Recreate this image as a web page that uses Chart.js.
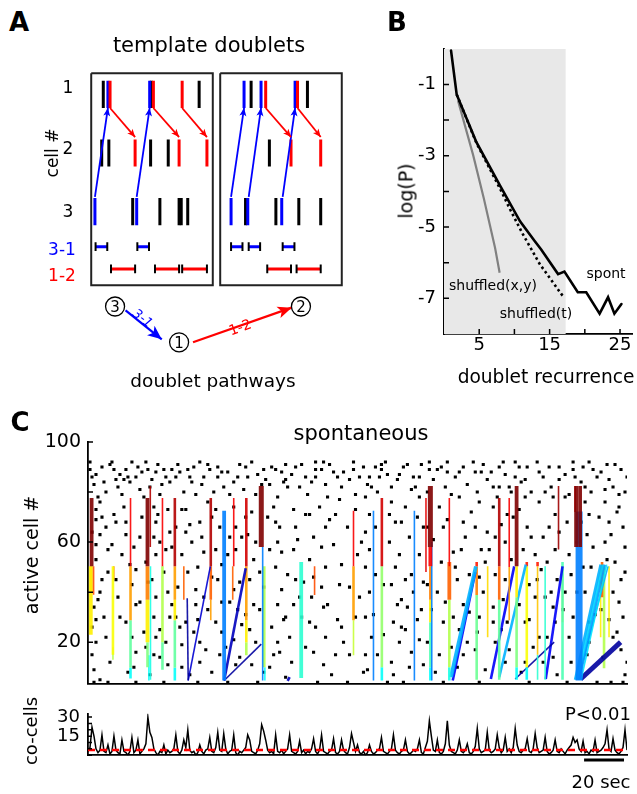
<!DOCTYPE html>
<html>
<head>
<meta charset="utf-8">
<title>doublet pathways</title>
<script src="https://cdn.jsdelivr.net/npm/chart.js@4.4.1/dist/chart.umd.min.js"></script>
<style>
  body { margin: 0; width: 637px; height: 794px; position: relative; overflow: hidden; background: #fff;
         font-family: "DejaVu Sans", sans-serif; }
  canvas { position: absolute; }
  .lbl { position: absolute; line-height: 1; white-space: nowrap; }
</style>
</head>
<body>
<script>
// ---------- A: template doublets (time from start of first window, rows = cell #) ----------
const templateWindows = [[0, 131], [139, 270]];
const spikesBlack = [[13,1],[64.7,1],[116.3,1],[11.3,2],[19,2],[64,2],[83,2],[44.7,3],[74,3],[94.7,3],[97,3],[104,3],
                     [172.3,1],[233,1],[192,2],[166.3,3],[199,3],[223.7,3],[247.3,3]];
const spikesBlue = [[18,1],[63,1],[4,3],[49,3],[164.7,1],[183,1],[219.7,1],[150.7,3],[168.7,3],[205.3,3]];
const spikesRed = [[20.3,1],[67,1],[98,1],[47.3,2],[94.7,2],[124.7,2],[188,1],[222.3,1],[215.3,2],[247.3,2]];
const pairs31 = [[4.7,17.3],[49.7,62.3],[150.7,163],[169.7,182],[206.3,219]];
const pairs12 = [[21.3,47.3],[68.7,94.7],[98,124.7],[189.7,215.3],[221.3,247.3]];
const arrows31 = [[4,2.75,18,1.232],[49,2.75,63,1.232],[150.7,2.75,164.7,1.232],[169.7,2.75,183,1.232],[206.3,2.75,219.7,1.232]];
const arrows12 = [[20.3,1.232,47.3,1.728],[67,1.232,94.7,1.728],[98,1.232,124.7,1.728],[188,1.232,215.3,1.728],[222.3,1.232,247.3,1.728]];
const pathwayNodes = [['3', 25.7, 4.62], ['1', 94.7, 5.232], ['2', 226, 4.62]];
const pathwayEdges = [['3-1', 37, 4.688, 76, 5.18], ['1-2', 109.7, 5.232, 216, 4.64]];

// ---------- B: doublet recurrence ----------
const spontX = [1, 1.8, 4.6, 7.9, 10.8, 12.9, 13.8, 16.2, 17.1, 19.0, 20.2, 22.1, 23.3, 24.2, 25.2];
const spontY = [-0.05, -1.28, -2.62, -3.82, -4.84, -5.40, -5.63, -6.32, -6.25, -6.83, -6.83, -7.43, -6.97, -7.43, -7.16];
const shufTX = [1.8, 4.6, 7.9, 9.5, 11.2, 13.6, 17.0];
const shufTY = [-1.28, -2.64, -3.9, -4.55, -5.2, -6.04, -6.97];
const shufXYX = [2.0, 4.15, 5.65, 7.25, 7.9];
const shufXYY = [-1.46, -2.99, -4.19, -5.58, -6.28];
const shadeUntil = 17.3;

// ---------- C: spontaneous raster [sec, cell] ----------
const rasterSpikes = [
  [1,92],[1,89],[2,86],[3,83],[5,78],[7,90],[6,76],[13,89],[14,85],[15,82],[19,89],[18,85],[22,92],[24,86],[26,81],[29,92],[30,89],[32,85],
  [38,89],[39,86],[42,89],[46,88],[50,89],[56,92],[52,84],[65,90],[65,86],[68,82],[73,84],[79,90],[80,86],[88,89],[89,85],[94,89],[99,91],
  [99,85],[100,82],[106,82],[114,92],[114,89],[114,86],
  [4,73],[4,69],[6,63],[4,59],[4,53],[13,71],[14,68],[12,59],[10,48],[7,45],[6,40],[3,34],[4,29],[2,26],[4,20],[2,15],[3,9],[6,5],
  [19,68],[19,63],[23,58],[24,49],[22,43],[24,35],[19,28],[22,22],[24,16],[23,10],
  [33,74],[34,68],[33,62],[34,55],[32,45],[34,38],[33,30],[34,22],[33,15],
  [40,73],[41,64],[39,57],[40,40],[41,30],[39,20],[40,11],
  [47,73],[49,73],[49,64],[47,55],[50,48],[49,28],[47,19],[47,10],
  [56,68],[57,62],[55,50],[58,38],[55,29],[56,20],[56,12],
  [64,73],[66,66],[64,57],[65,45],[67,36],[64,28],[66,15],
  [73,74],[74,66],[74,57],[73,41],[75,33],[73,21],[74,11],
  [82,72],[80,63],[83,53],[81,45],[83,35],[81,25],[82,11],
  [93,74],[94,68],[95,60],[94,50],[95,35],[98,29],[99,30],[95,20],[93,15],[99,6],
  [103,73],[104,66],[103,57],[104,45],[103,35],[101,22],
  [111,71],[113,62],[111,53],[112,38],[111,28],[113,16],
  [133,92],[133,89],[147,91],[147,89],[146,86],[155,85],[164,82],[171,92],[171,89],[180,92],[180,88],[184,86],[193,92],[194,88],[200,85],
  [206,90],[206,82],[214,92],[214,86],[220,90],[225,92],[226,88],[236,85],[243,92],[243,89],[251,92],[255,86],[261,85],[267,89],[269,80],
  [125,86],[119,83],[142,82],[140,83],[162,81],[179,82],[203,82],[211,82],[229,80],[249,82],[259,81],
  [126,77],[124,71],[119,66],[123,59],[119,50],[126,43],[120,35],[125,29],[119,22],[124,15],[118,11],
  [139,78],[141,71],[139,64],[141,57],[139,50],[141,40],[139,30],[142,22],[139,15],[140,9],
  [152,76],[154,68],[151,60],[154,50],[152,43],[155,35],[153,28],[156,20],[152,12],
  [159,74],[161,62],[159,45],[160,34],[159,25],[161,10],
  [166,78],[168,66],[166,55],[168,44],[167,33],[166,21],[168,11],
  [176,74],[178,66],[177,52],[175,40],[178,28],[176,15],
  [186,78],[188,68],[187,57],[185,45],[188,35],[186,25],[188,15],
  [196,76],[194,66],[197,57],[198,40],[196,30],[194,17],
  [203,74],[204,62],[204,47],[203,34],[204,20],
  [210,71],[209,60],[209,45],[210,28],[209,12],
  [219,78],[220,66],[218,57],[221,43],[219,28],[219,12],
  [226,76],[228,62],[227,49],[229,38],[226,22],[228,12],
  [233,78],[234,71],[234,57],[235,45],[233,34],[234,28],[235,7],
  [239,78],[240,68],[241,55],[239,40],[241,22],
  [249,76],[251,71],[250,63],[252,50],[249,40],[251,28],[250,15],
  [259,76],[261,68],[259,60],[260,53],[263,40],[261,29],
  [266,74],[268,66],[269,58],[267,45],[268,30],[267,17],[269,7],
  [3,4],[10,4],[24,4],[38,4],[55,4],[70,4],[85,4],[115,4],[130,4],[150,4],[158,4],[178,4],[196,4],[221,4],[240,4],[255,4],[262,4],[268,4],
  [8,84],[11,91],[16,87],[21,84],[27,88],[35,91],[37,83],[44,86],[53,90],[58,86],[61,89],[70,88],[76,91],[85,87],[91,83],[97,88],[104,90],
  [109,86],[117,89],[121,91],[128,88],[136,86],[144,90],[150,87],[158,90],[166,86],[175,89],[188,90],[197,88],[209,87],[217,84],[231,90],
  [239,87],[247,84],[253,89],[264,91],
  [9,66],[17,55],[27,70],[29,52],[36,60],[44,66],[52,60],[60,76],[62,46],[70,55],[77,62],[86,48],[90,70],[97,56],[108,44],[116,74],[130,66],
  [135,55],[144,47],[157,68],[170,66],[183,56],[191,47],[200,64],[213,70],[224,55],[231,66],[245,60],[256,70],[264,52],
  [8,30],[15,38],[28,24],[36,14],[44,30],[53,24],[60,33],[69,18],[77,27],[86,33],[91,10],[97,41],[107,30],[117,42],[128,20],[134,30],
  [145,15],[157,26],[163,40],[172,33],[183,30],[190,20],[199,52],[207,25],[216,35],[223,18],[232,40],[243,30],[248,50],[257,33],[265,24],
  [4,87],[9,80],[12,92],[17,79],[20,86],[25,90],[28,78],[31,82],[34,88],[36,79],[41,84],[45,91],[48,80],[51,86],[54,79],[57,83],[60,91],
  [63,80],[67,88],[71,79],[75,86],[78,81],[82,92],[84,79],[87,83],[92,90],[95,78],[98,84],[102,87],[107,91],[110,79],[112,84],[118,92],
  [120,78],[123,88],[127,82],[131,85],[134,79],[138,90],[141,86],[145,80],[149,92],[152,82],[156,87],[160,91],[163,86],[167,91],[170,80],
  [173,85],[177,90],[182,79],[186,88],[190,83],[195,80],[198,91],[202,88],[205,78],[208,92],[212,80],[216,90],[219,85],[222,80],[228,86],
  [232,82],[236,90],[241,79],[244,86],[248,90],[252,80],[257,88],[260,91],[263,82],[266,79],[270,86],
  [2,64],[7,70],[10,57],[14,45],[18,74],[21,51],[26,62],[30,44],[35,71],[38,48],[42,58],[45,42],[51,67],[54,41],[58,56],[62,70],[67,51],
  [71,62],[76,44],[79,70],[84,60],[88,42],[91,57],[96,66],[100,47],[105,61],[109,71],[113,46],[117,58],[121,69],[127,51],[131,42],[134,73],
  [137,60],[144,66],[148,43],[151,71],[156,55],[162,47],[165,70],[170,43],[173,61],[180,69],[184,50],[189,62],[192,72],[196,46],[201,57],
  [207,67],[212,53],[216,73],[222,62],[225,45],[230,52],[236,64],[242,47],[247,68],[253,58],[257,44],[262,63],[265,72],[269,48],
  [5,37],[9,22],[11,12],[16,30],[20,8],[26,36],[29,18],[31,7],[36,25],[42,35],[46,26],[51,7],[54,35],[59,17],[62,8],[67,24],[71,36],
  [76,14],[79,31],[84,20],[88,8],[92,26],[96,16],[102,12],[106,38],[109,18],[114,26],[118,34],[122,7],[127,26],[131,15],[136,38],[138,8],
  [143,31],[148,23],[153,7],[157,37],[162,16],[165,29],[170,20],[174,8],[179,36],[182,18],[185,10],[191,32],[195,24],[199,9],[203,28],
  [208,37],[211,17],[217,8],[221,29],[224,38],[230,22],[233,14],[238,33],[242,12],[245,40],[251,20],[254,31],[258,14],[263,22],[266,36],[270,12]
];

// doublet sequences: [t0, cell0, t1, cell1, colour level (jet 0..1), recurrence]
const doubletSegments = [
  [1.8,50.3,1.8,77.6,1.0,3],[2.8,39,2.8,50.3,0.8,1],[1.4,23,1.4,50.3,0.64,3],[1.6,40,1.6,50.3,0.72,2],
  [12.5,15,12.5,50.3,0.62,2],[12.9,45,12.9,50.3,0.78,1],[12.5,13,12.5,18,0.55,1],
  [21.3,50.3,21.3,77.6,0.88,1],[21.3,28.8,21.3,50.3,0.72,2],[21.3,9.8,21.3,28.8,0.47,2],[21.3,5.5,21.3,9.8,0.38,2],
  [29.8,50.3,29.8,77.6,1.0,3],[31.2,58,31.2,82.4,0.95,1],[29.8,37,29.8,50.3,0.75,3],[29.8,20,29.8,37,0.64,3],
  [29.8,10,29.8,20,0.5,2],[30.5,4.7,30.5,14.8,0.38,1],[31.3,5,31.3,50.3,0.4,1],
  [37.3,50.3,37.3,77.6,0.88,1],[37.3,20,37.3,50.3,0.55,2],[37.3,9,37.3,20,0.47,2],
  [43.5,50.3,43.5,77.6,0.95,2],[43.5,37,43.5,50.3,0.72,2],[43.5,28.8,43.5,37,0.64,2],[43.5,9.8,43.5,28.8,0.47,2],[43.5,4.7,43.5,9.8,0.38,2],
  [48,37,48,50.3,0.78,1],
  [49.7,37.6,50.2,4.7,0.03,1],[50.2,4.7,61.3,50.3,0.08,1],
  [61.5,50.3,61.5,77.6,0.95,2],[61.5,37,61.5,50.3,0.78,2],[61.5,28.8,61.5,37,0.72,1],
  [68.2,4.7,68.2,72.5,0.25,3],[68.2,4.7,79,49.5,0.06,2],[68.2,4.7,86.8,19.2,0.03,1],
  [73,50.3,73,77.6,0.88,1],[72.5,37,72.5,50.3,0.78,1],
  [79.3,50.3,79.3,77.6,0.92,2],[79.3,28.8,79.3,50.3,0.72,2],[79.3,20,79.3,28.8,0.64,2],[79.3,14.8,79.3,20,0.55,2],
  [86.8,58,86.8,82.4,1.0,4],[87.5,4.7,87.5,58,0.25,1],[88.3,10,88.3,50.3,0.55,2],[88.6,4.7,88.6,10,0.38,1],
  [100,4.5,101,6,0.06,2],
  [106.8,5.7,106.8,52,0.42,3],
  [113.5,38.9,113.5,50.3,0.8,1],
  [133,50.3,133,72.5,0.88,1],[133,28.8,133,50.3,0.72,2],[133,14.8,133,28.8,0.57,1],
  [143,4.7,143,72.5,0.25,1],
  [147.2,50.3,147.2,77.6,0.92,2],[147.2,10,147.2,50.3,0.52,2],[147.2,4.7,147.2,10,0.38,2],
  [163.5,4.7,163.5,72.5,0.25,1],
  [169.3,48,169.3,77.6,0.9,1],[171.5,58,171.5,82.4,1.0,4],[171.5,50.3,171.5,58,0.88,3],[172.2,4.7,172.2,60,0.25,1],
  [171.5,37,171.5,50.3,0.75,2],[171.5,28,171.5,37,0.64,2],[171.5,10,171.5,28,0.45,2],[171.5,4.7,171.5,10,0.38,2],
  [181,50.3,181,77.6,0.88,1],[181,37,181,52,0.78,3],[181,10,181,37,0.55,2],[181,4.7,181,10,0.4,2],
  [181.8,6,194.3,50.3,0.3,3],[182.7,4.7,194,48,0.12,2],
  [194.7,50.3,194.7,52,0.85,2],[194.7,38.9,194.7,50.3,0.75,2],[194.7,5,194.7,38.9,0.48,2],
  [200.2,22,200.2,50.3,0.66,1],
  [206,50.3,206,77.6,0.95,2],[206,37,206,50.3,0.78,2],[206,5,206,37,0.47,2],
  [211,50,211,77.6,0.88,1],[211,28.8,211,50,0.72,1],
  [214.7,50.3,214.7,82.4,1.0,3],[214.7,38,214.7,50.3,0.64,2],[214.7,10,214.7,38,0.5,2],[214.7,5,214.7,10,0.38,2],
  [201.8,5.3,213.5,50.3,0.12,2],[206,6,219.3,51,0.3,2],
  [219.8,50.3,219.8,52,0.85,2],[219.8,10,219.8,50.3,0.62,2],[219.8,5,219.8,10,0.38,2],
  [225.2,50.3,225.2,52,0.85,2],[225.2,15,225.2,50.3,0.68,1],[225.2,5,225.2,15,0.42,1],
  [229,5,229,50.3,0.42,1],
  [214,5.3,233.5,20,0.03,1],[229.3,5.3,237.7,50.3,0.12,2],
  [235.7,57,235.7,82.4,0.97,1],
  [237.7,5,237.7,52,0.45,2],[237.7,28,237.7,50.3,0.68,1],
  [244.5,58,244.5,82.4,1.0,3],[246.5,58,246.5,82.4,1.0,3],[244,72,244,82.4,0.9,1],[246,4.7,246,72.2,0.25,5],
  [244,5,256.8,51,0.3,2],[245,5,257.8,51,0.33,2],[246,5,258.8,51,0.28,2],[247,5,259.8,51,0.35,1],[245.5,5,260.5,50.3,0.3,1],
  [246.8,5.3,266.8,20,0.03,4],
  [257.5,38,257.5,52,0.78,2],[256.8,22,256.8,50.3,0.64,1],[261,22,261,50.3,0.64,1],[258.5,9.6,258.5,50.3,0.55,2]
];

// co-active cells per second, 0..270 s
const coCells = [
  3,6,22,15,5,2,4,16,3,2,8,1,3,15,4,2,1,12,3,2,
  0,3,14,2,4,12,1,3,5,9,30,18,14,5,2,0,3,2,8,1,
  4,2,3,5,16,3,1,4,12,6,20,4,2,3,0,2,8,3,1,4,
  5,14,3,2,6,18,4,3,17,5,1,3,4,16,2,0,3,2,4,6,
  16,12,3,2,1,4,9,24,19,12,4,2,3,1,16,3,2,4,1,3,
  5,16,3,2,1,3,11,2,4,1,3,2,5,13,3,1,4,16,3,2,
  1,3,4,13,2,1,3,12,4,2,1,6,17,10,3,8,2,1,3,0,
  2,8,3,1,2,4,5,14,3,2,1,3,5,16,4,2,1,3,4,12,
  3,1,2,4,3,5,12,2,1,6,11,27,15,4,3,12,2,1,3,9,
  27,8,3,2,1,4,12,3,2,4,9,2,1,3,7,21,5,2,3,4,
  18,4,2,3,5,16,6,2,4,14,3,5,2,6,21,8,3,2,4,5,
  13,3,2,5,17,6,2,3,4,14,3,1,2,4,12,3,2,5,3,1,
  4,6,8,14,10,12,5,3,11,2,3,1,4,3,12,2,3,4,6,9,
  20,5,3,13,4,2,1,3,6,20,4
];
const coCellThreshold = 4;
const scaleBarSec = [248.5, 268.5];

// ---------- helpers ----------
Chart.defaults.font.family = '"DejaVu Sans", sans-serif';
Chart.defaults.color = '#000';

const pairColor = { '3-1': '#0000ff', '1-2': '#ff0000' };
const pairRow = { '3-1': 3.6, '1-2': 3.98 };
const recurrenceWidth = [0, 1.6, 2.6, 3.8, 5, 7];

function jet(k, a) {
  const c = v => Math.round(255 * Math.max(0, Math.min(1, v)));
  return `rgba(${c(1.5 - Math.abs(4 * k - 3))},${c(1.5 - Math.abs(4 * k - 2))},${c(1.5 - Math.abs(4 * k - 1))},${a})`;
}

function seg(pts, color, width, extra) {
  return Object.assign({ data: pts.map(([x, y]) => ({ x, y })), showLine: true, borderColor: color,
    borderWidth: width, pointRadius: 0, borderCapStyle: 'butt' }, extra || {});
}

const inwardTicks = {
  id: 'inwardTicks',
  afterDraw(chart, args, opts) {
    const ctx = chart.ctx, area = chart.chartArea;
    ctx.save();
    ctx.strokeStyle = '#000';
    ctx.lineWidth = 1.5;
    ['x', 'y'].forEach(id => {
      const len = opts[id];
      if (!len) return;
      const s = chart.scales[id];
      ctx.beginPath();
      s.ticks.forEach(t => {
        const p = s.getPixelForValue(t.value);
        if (id === 'x') { ctx.moveTo(p, area.bottom); ctx.lineTo(p, area.bottom - len); }
        else { ctx.moveTo(area.left, p); ctx.lineTo(area.left + len, p); }
      });
      ctx.stroke();
    });
    ctx.restore();
  }
};

const arrowHeads = {
  id: 'arrowHeads',
  afterDatasetsDraw(chart) {
    const ctx = chart.ctx;
    chart.data.datasets.forEach((ds, i) => {
      if (!ds.arrowLen) return;
      const pts = chart.getDatasetMeta(i).data;
      const a = pts[pts.length - 2], b = pts[pts.length - 1];
      const ang = Math.atan2(b.y - a.y, b.x - a.x);
      ctx.save();
      ctx.translate(b.x, b.y);
      ctx.rotate(ang);
      ctx.fillStyle = ds.borderColor;
      ctx.beginPath();
      ctx.moveTo(0, 0);
      ctx.lineTo(-ds.arrowLen, -ds.arrowHalf);
      ctx.lineTo(-ds.arrowLen * 0.75, 0);
      ctx.lineTo(-ds.arrowLen, ds.arrowHalf);
      ctx.closePath();
      ctx.fill();
      ctx.restore();
    });
  }
};

function linAxis(min, max, tickVals, labelVals, size, horiz, fontSize, pad) {
  return {
    type: 'linear', min, max,
    grid: { display: false, drawTicks: false },
    border: { display: true, color: '#000', width: 1.8 },
    ticks: { display: labelVals.length > 0, autoSkip: false, maxRotation: 0, padding: pad, color: '#000',
      font: { size: fontSize }, callback: v => labelVals.includes(v) ? String(v) : '' },
    afterBuildTicks: s => { if (tickVals) s.ticks = tickVals.map(v => ({ value: v })); },
    afterFit: s => { if (horiz) s.height = size; else s.width = size; }
  };
}

function makeChart(left, top, w, h, config) {
  const cv = document.createElement('canvas');
  cv.width = w; cv.height = h;
  cv.style.left = left + 'px'; cv.style.top = top + 'px';
  cv.style.width = w + 'px'; cv.style.height = h + 'px';
  document.body.appendChild(cv);
  config.options = Object.assign({ responsive: false, animation: false, devicePixelRatio: 1, events: [] }, config.options);
  config.options.plugins = Object.assign({ legend: { display: false }, tooltip: { enabled: false } }, config.options.plugins);
  config.plugins = [inwardTicks, arrowHeads];
  return new Chart(cv, config);
}

function addText(str, x, y, size, o) {
  o = o || {};
  const d = document.createElement('div');
  d.className = 'lbl';
  d.textContent = str;
  d.style.left = x + 'px';
  d.style.top = y + 'px';
  d.style.fontSize = size + 'px';
  d.style.color = o.color || '#000';
  if (o.bold) d.style.fontWeight = 'bold';
  if (o.italic) d.style.fontStyle = 'italic';
  d.style.transform = `translate(${o.anchor === 'right' ? '-100%' : '-50%'},-50%) rotate(${o.rot || 0}deg)`;
  document.body.appendChild(d);
}

// ---------- panel A ----------
const dsA = [];
templateWindows.forEach(([a, b]) =>
  dsA.push(seg([[a, 0.64], [b, 0.64], [b, 4.256], [a, 4.256], [a, 0.64]], '#222', 2, { borderJoinStyle: 'miter' })));
[[spikesBlack, '#000'], [spikesBlue, '#0000ff'], [spikesRed, '#ff0000']].forEach(([list, col]) =>
  list.forEach(([t, r]) => dsA.push(seg([[t, r - 0.232], [t, r + 0.232]], col, 3))));
[[pairs31, '3-1'], [pairs12, '1-2']].forEach(([list, name]) => list.forEach(([t0, t1]) => {
  const r = pairRow[name];
  dsA.push(seg([[t0, r], [t1, r]], pairColor[name], 3));
  dsA.push(seg([[t0, r - 0.075], [t0, r + 0.075]], '#000', 2));
  dsA.push(seg([[t1, r - 0.075], [t1, r + 0.075]], '#000', 2));
}));
arrows31.forEach(([t0, r0, t1, r1]) => dsA.push(seg([[t0, r0], [t1, r1]], pairColor['3-1'], 1.8, { arrowLen: 8, arrowHalf: 3.5 })));
arrows12.forEach(([t0, r0, t1, r1]) => dsA.push(seg([[t0, r0], [t1, r1]], pairColor['1-2'], 1.8, { arrowLen: 8, arrowHalf: 3.5 })));
pathwayEdges.forEach(([name, t0, r0, t1, r1]) =>
  dsA.push(seg([[t0, r0], [t1, r1]], pairColor[name], 2.2, { arrowLen: 14, arrowHalf: 6 })));
dsA.push({ data: pathwayNodes.map(([c, t, r]) => ({ x: t, y: r })), showLine: false, pointRadius: 9.5,
  pointBackgroundColor: '#fff', pointBorderColor: '#000', pointBorderWidth: 1.3 });
dsA.forEach((d, i) => { d.order = -i; });

const chartA = makeChart(60, 55, 300, 345, {
  type: 'scatter',
  data: { datasets: dsA },
  options: {
    layout: { padding: 0 },
    scales: {
      x: { type: 'linear', min: -22, max: 278, display: false },
      y: { type: 'linear', min: 0.512, max: 6.032, reverse: true, display: false }
    }
  }
});
pathwayNodes.forEach(([c, t, r]) =>
  addText(c, 60 + chartA.scales.x.getPixelForValue(t), 55 + chartA.scales.y.getPixelForValue(r) + 0.5, 15));

// ---------- panel B ----------
const zip = (xs, ys) => xs.map((x, i) => [x, ys[i]]);
makeChart(380, 30, 257, 360, {
  type: 'scatter',
  data: { datasets: [
    seg(zip(spontX, spontY), '#000', 2.6, { order: 1, borderCapStyle: 'round' }),
    seg(zip(shufTX, shufTY), '#000', 2.6, { order: 2, borderDash: [2.5, 3] }),
    seg(zip(shufXYX, shufXYY), '#808080', 2.2, { order: 3 }),
    seg([[0, 0], [shadeUntil, 0]], 'rgba(0,0,0,0)', 0, { fill: 'start', backgroundColor: '#e8e8e8', order: 10 })
  ] },
  options: {
    layout: { padding: { top: 14, right: 5, left: 0, bottom: 0 } },
    scales: {
      x: linAxis(0, 26.7, [5, 10, 15, 20, 25], [5, 15, 25], 56, true, 18, 1),
      y: linAxis(-8, 0, [-7, -6, -5, -4, -3, -2, -1], [-7, -5, -3, -1], 64, false, 18, 8)
    },
    plugins: { inwardTicks: { x: 5, y: 5 } }
  }
});

// ---------- panel C raster ----------
const dsC = [{ data: rasterSpikes.map(([t, c]) => ({ x: t, y: c })), showLine: false, pointStyle: 'rect',
  pointRadius: 2.2, pointBackgroundColor: '#000', pointBorderWidth: 0, order: 5 }];
doubletSegments.forEach(([t0, c0, t1, c1, k, n]) =>
  dsC.push(seg([[t0, c0], [t1, c1]], jet(k, 0.9), recurrenceWidth[n], { order: 1 })));

makeChart(0, 420, 637, 282, {
  type: 'scatter',
  data: { datasets: dsC },
  options: {
    layout: { padding: { top: 22, right: 10, left: 0, bottom: 0 } },
    scales: {
      x: linAxis(0, 270, null, [], 5, true, 18, 0),
      y: linAxis(3.45, 100, [20, 40, 60, 80, 100], [20, 60, 100], 88, false, 19, 7)
    },
    plugins: { inwardTicks: { y: 5 } }
  }
});

// ---------- panel C co-cells ----------
makeChart(0, 695, 637, 79, {
  type: 'scatter',
  data: { datasets: [
    seg([[0, coCellThreshold], [270, coCellThreshold]], '#ff0000', 2.5, { borderDash: [7, 5], order: 1 }),
    seg(coCells.map((v, i) => [i, v]), '#000', 1.5, { order: 2 }),
    seg([[scaleBarSec[0], -3.75], [scaleBarSec[1], -3.75]], '#000', 3, { clip: false, order: 3 })
  ] },
  options: {
    layout: { padding: { top: 11, right: 10, left: 0, bottom: 0 } },
    scales: {
      x: linAxis(0, 270, null, [], 13.3, true, 18, 0),
      y: linAxis(0, 32.6, [0, 5, 10, 15, 20, 25, 30], [15, 30], 88, false, 18, 8)
    },
    plugins: { inwardTicks: { y: 4 } }
  }
});

// ---------- text ----------
[
  ['A', 19, 22, 26, { bold: true }],
  ['template doublets', 209, 45, 21],
  ['cell #', 52, 153, 17, { rot: -90 }],
  ['1', 68, 87, 17], ['2', 68, 148, 17], ['3', 68, 211, 17],
  ['3-1', 62, 249, 17, { color: '#0000ff' }],
  ['1-2', 62, 275, 17, { color: '#ff0000' }],
  ['3-1', 143, 318, 13, { color: '#0000ff', italic: true, rot: 38 }],
  ['1-2', 240, 327, 14, { color: '#ff0000', rot: -20 }],
  ['doublet pathways', 213, 381, 18.5],
  ['B', 397, 22, 26, { bold: true }],
  ['log(P)', 406, 191, 19, { rot: -90 }],
  ['doublet recurrence', 546, 377, 18.6],
  ['shuffled(x,y)', 493, 285, 14],
  ['shuffled(t)', 536, 313, 14],
  ['spont', 606, 273, 14],
  ['C', 20, 422, 26, { bold: true }],
  ['spontaneous', 361, 433, 21],
  ['active cell #', 31, 555, 19, { rot: -90 }],
  ['co-cells', 31, 731, 18, { rot: -90 }],
  ['P<0.01', 631, 714, 18, { anchor: 'right' }],
  ['20 sec', 601, 782, 18]
].forEach(([s, x, y, size, o]) => addText(s, x, y, size, o));
</script>
</body>
</html>
